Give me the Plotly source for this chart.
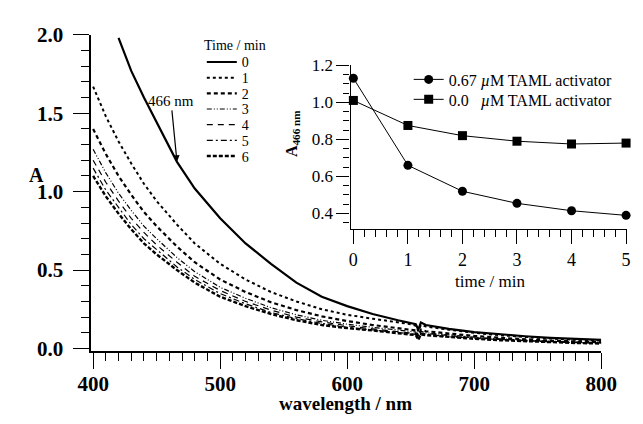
import plotly.graph_objects as go

# ---------------- data ----------------
wavelength = [400, 410, 420, 430, 440, 450, 466, 480, 500, 520, 540, 560, 580, 600,
              620, 640, 650, 654, 656, 658, 662, 680, 700, 720, 740, 760, 780, 800]

A_t0 = [None, None, 1.98, 1.77, 1.60, 1.44, 1.19, 1.02, 0.83, 0.67, 0.54, 0.42, 0.33, 0.27,
        0.22, 0.18, 0.165, 0.155, 0.12, 0.165, 0.15, 0.125, 0.105, 0.09, 0.078, 0.068, 0.06, 0.055]
A_t1 = [1.67, 1.48, 1.32, 1.18, 1.05, 0.94, 0.79, 0.67, 0.54, 0.44, 0.36, 0.30, 0.25, 0.215,
        0.19, 0.165, 0.155, 0.145, 0.11, 0.15, 0.14, 0.12, 0.10, 0.085, 0.072, 0.063, 0.056, 0.05]
A_t2 = [1.40, 1.24, 1.10, 0.98, 0.87, 0.78, 0.65, 0.55, 0.44, 0.36, 0.295, 0.245, 0.205, 0.175,
        0.15, 0.13, 0.12, 0.115, 0.08, 0.12, 0.11, 0.095, 0.08, 0.068, 0.058, 0.05, 0.045, 0.04]
A_t3 = [1.27, 1.12, 0.99, 0.88, 0.78, 0.70, 0.58, 0.49, 0.39, 0.32, 0.26, 0.215, 0.18, 0.155,
        0.135, 0.12, 0.11, 0.105, 0.07, 0.11, 0.10, 0.085, 0.072, 0.062, 0.053, 0.046, 0.041, 0.037]
A_t4 = [1.20, 1.06, 0.94, 0.83, 0.74, 0.66, 0.55, 0.46, 0.37, 0.30, 0.245, 0.20, 0.17, 0.145,
        0.125, 0.11, 0.10, 0.095, 0.065, 0.10, 0.095, 0.08, 0.068, 0.058, 0.05, 0.044, 0.039, 0.035]
A_t5 = [1.15, 1.01, 0.90, 0.79, 0.70, 0.63, 0.52, 0.44, 0.35, 0.285, 0.23, 0.19, 0.16, 0.135,
        0.12, 0.105, 0.095, 0.09, 0.06, 0.095, 0.09, 0.075, 0.065, 0.056, 0.048, 0.042, 0.037, 0.034]
A_t6 = [1.10, 0.97, 0.86, 0.76, 0.67, 0.60, 0.50, 0.42, 0.33, 0.27, 0.22, 0.18, 0.15, 0.13,
        0.115, 0.10, 0.09, 0.085, 0.055, 0.09, 0.085, 0.072, 0.062, 0.053, 0.046, 0.04, 0.035, 0.032]

time_labels = ["0", "1", "2", "3", "4", "5", "6"]

inset_time = [0, 1, 2, 3, 4, 5]
inset_taml = [1.13, 0.66, 0.52, 0.455, 0.415, 0.39]
inset_none = [1.01, 0.875, 0.82, 0.79, 0.775, 0.78]
inset_names = ["0.67 <i>µ</i>M TAML activator", "0.0\u00a0\u00a0\u00a0<i>µ</i>M TAML activator"]

main_xticks = [400, 500, 600, 700, 800]
main_yticks = [0.0, 0.5, 1.0, 1.5, 2.0]
inset_xticks = [0, 1, 2, 3, 4, 5]
inset_yticks = [0.4, 0.6, 0.8, 1.0, 1.2]

# ---------------- styling ----------------
FONT = "Liberation Serif"
W, H = 643, 424

def px(xp):
    return xp / W

def py(yp):
    return 1 - yp / H

styles = [
    dict(width=2.2, dash="solid"),
    dict(width=2.0, dash="dot"),
    dict(width=2.2, dash="4px,3px"),
    dict(width=1.2, dash="5px,2px,1px,2px,1px,2px"),
    dict(width=1.2, dash="6px,5px"),
    dict(width=1.2, dash="6px,3px,2px,3px"),
    dict(width=2.4, dash="4px,2px"),
]

fig = go.Figure()
series = [A_t0, A_t1, A_t2, A_t3, A_t4, A_t5, A_t6]
legend_rows = [53, 69.5, 86, 102.5, 119, 135.5, 152]
for i, (name, ys, st) in enumerate(zip(time_labels, series, styles)):
    lid = "legend" if i == 0 else f"legend{i + 1}"
    fig.add_trace(go.Scatter(
        x=wavelength, y=ys, mode="lines", name=name,
        line=dict(color="black", width=st["width"], dash=st["dash"]),
        xaxis="x", yaxis="y", legend=lid, connectgaps=False))

fig.add_trace(go.Scatter(
    x=inset_time, y=inset_taml, mode="lines+markers", name=inset_names[0],
    line=dict(color="black", width=1), marker=dict(symbol="circle", size=9, color="black"),
    xaxis="x2", yaxis="y2", legend="legend8", cliponaxis=False))
fig.add_trace(go.Scatter(
    x=inset_time, y=inset_none, mode="lines+markers", name=inset_names[1],
    line=dict(color="black", width=1), marker=dict(symbol="square", size=9, color="black"),
    xaxis="x2", yaxis="y2", legend="legend9", cliponaxis=False))

axis_common = dict(showline=True, linecolor="black", ticks="outside", tickcolor="black",
                   showgrid=False, zeroline=False, color="black")

legends = {}
for i, ry in enumerate(legend_rows):
    lid = "legend" if i == 0 else f"legend{i + 1}"
    legends[lid] = dict(x=px(197), y=py(ry), xanchor="left", yanchor="middle",
                        font=dict(family=FONT, size=14), bgcolor="rgba(0,0,0,0)",
                        itemwidth=30, borderwidth=0)
for lid, ry in (("legend8", 71), ("legend9", 92)):
    legends[lid] = dict(x=px(414), y=py(ry), xanchor="left", yanchor="middle",
                        font=dict(family=FONT, size=16), bgcolor="rgba(0,0,0,0)",
                        itemwidth=30, borderwidth=0)

fig.update_layout(
    width=W, height=H, autosize=False,
    margin=dict(l=0, r=0, t=0, b=0),
    paper_bgcolor="white", plot_bgcolor="rgba(0,0,0,0)",
    font=dict(family=FONT, color="black"),
    xaxis=dict(domain=[px(81), px(616)], range=[398.5, 800], anchor="y",
               tickvals=main_xticks, ticktext=[f"<b>{v}</b>" for v in main_xticks],
               ticklen=16, tickwidth=1.3, linewidth=1.5, ticklabelstandoff=-3,
               minor=dict(dtick=10, tick0=400, ticks="outside", ticklen=8, tickcolor="black", tickwidth=1.2),
               tickfont=dict(family=FONT, size=21), **axis_common),
    yaxis=dict(domain=[py(357), py(24)], range=[-0.018, 2.0], anchor="x",
               tickvals=main_yticks, ticktext=[f"<b>{v:.1f}</b>" for v in main_yticks],
               ticklen=16, tickwidth=1.3, linewidth=1.5, ticklabelstandoff=6,
               minor=dict(dtick=0.1, tick0=0, ticks="outside", ticklen=8, tickcolor="black", tickwidth=1.2),
               tickfont=dict(family=FONT, size=21), **axis_common),
    xaxis2=dict(domain=[px(353), 1.0], range=[-0.052, 5.017], anchor="y2",
                tickvals=inset_xticks, ticklen=14, tickwidth=1.2, linewidth=1.4,
                minor=dict(dtick=0.2, tick0=0, ticks="outside", ticklen=7, tickcolor="black", tickwidth=1),
                tickfont=dict(family=FONT, size=18), **axis_common),
    yaxis2=dict(domain=[py(228), py(56)], range=[0.318, 1.2], anchor="x2",
                tickvals=inset_yticks, tickformat=".1f", ticklen=13, tickwidth=1.2, linewidth=1.4,
                minor=dict(dtick=0.05, tick0=0.4, ticks="outside", ticklen=6, tickcolor="black", tickwidth=1),
                tickfont=dict(family=FONT, size=17), **axis_common),
    showlegend=True,
    **legends,
)

fig.add_annotation(x=px(232), y=py(35), xref="paper", yref="paper", text="Time / min",
                   xanchor="center", yanchor="middle", showarrow=False,
                   font=dict(family=FONT, size=14))
fig.add_annotation(x=466, y=1.19, xref="x", yref="y", text="466 nm", showarrow=True,
                   ax=-6, ay=-61, arrowhead=2, arrowsize=1.1, arrowwidth=1.2, arrowcolor="black",
                   font=dict(family=FONT, size=15))
fig.add_annotation(x=px(24), y=py(172), xref="paper", yref="paper", text="<b>A</b>",
                   xanchor="center", yanchor="middle",
                   showarrow=False, font=dict(family=FONT, size=20))
fig.add_annotation(x=px(292), y=py(128), xref="paper", yref="paper",
                   text="<b>A</b><sub><b>466 nm</b></sub>", textangle=-90,
                   xanchor="center", yanchor="middle",
                   showarrow=False, font=dict(family=FONT, size=16))
fig.add_annotation(x=px(348), y=py(412), xref="paper", yref="paper",
                   text="<b>wavelength / nm</b>", xanchor="center", yanchor="middle",
                   showarrow=False, font=dict(family=FONT, size=19))
fig.add_annotation(x=px(499), y=py(284), xref="paper", yref="paper",
                   text="time / min", xanchor="center", yanchor="middle",
                   showarrow=False, font=dict(family=FONT, size=17))

fig.write_html("out.html", config={"displayModeBar": False},
               post_script="document.body.style.margin='0px';document.body.style.overflow='hidden';")
